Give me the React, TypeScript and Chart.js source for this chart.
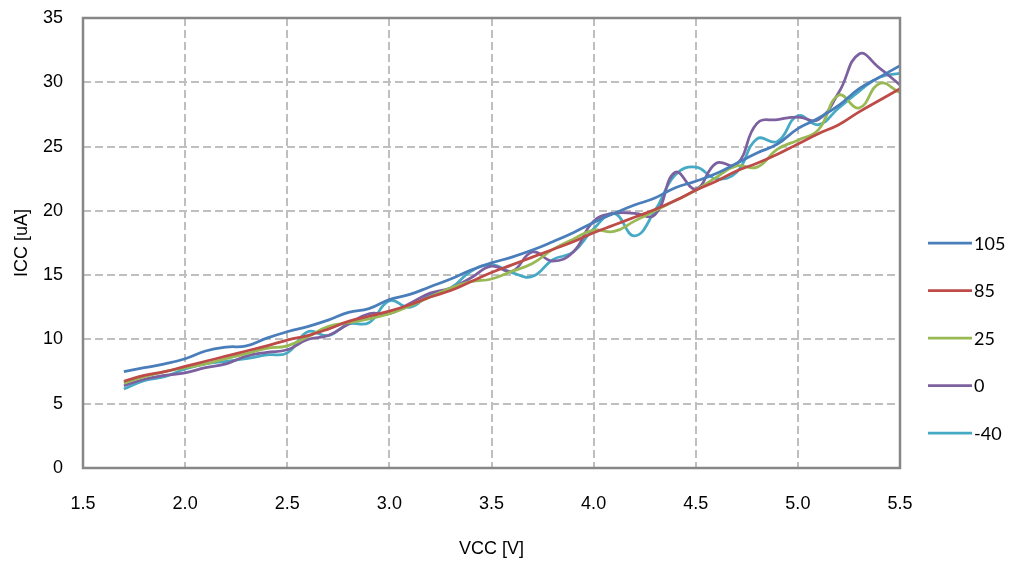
import React, { useEffect, useRef } from "react";
import { Chart, registerables } from "chart.js";

Chart.register(...registerables);

const vcc = [
  1.7, 1.8, 1.9, 2.0, 2.1, 2.2, 2.3, 2.4, 2.5, 2.6, 2.7, 2.8, 2.9, 3.0,
  3.1, 3.2, 3.3, 3.4, 3.5, 3.6, 3.7, 3.8, 3.9, 4.0, 4.1, 4.2, 4.3, 4.4,
  4.5, 4.6, 4.7, 4.8, 4.9, 5.0, 5.1, 5.2, 5.3, 5.4, 5.5,
];

const icc105 = [
  7.5, 7.8, 8.1, 8.5, 9.1, 9.4, 9.5, 10.1, 10.6, 11.0, 11.5, 12.1, 12.4, 13.1,
  13.5, 14.1, 14.7, 15.4, 15.95, 16.4, 16.95, 17.6, 18.3, 19.1, 19.8, 20.45, 21.0, 21.8,
  22.3, 22.9, 23.7, 24.5, 25.2, 26.4, 27.2, 28.2, 29.5, 30.4, 31.3,
];

const icc85 = [
  6.75, 7.2, 7.5, 7.9, 8.3, 8.7, 9.1, 9.5, 9.95, 10.3, 10.8, 11.4, 11.8, 12.2,
  12.7, 13.3, 13.8, 14.5, 15.2, 15.8, 16.4, 17.0, 17.6, 18.3, 18.9, 19.5, 20.1, 20.8,
  21.6, 22.3, 23.1, 23.7, 24.4, 25.2, 26.0, 26.7, 27.7, 28.6, 29.5,
];

const icc25 = [
  6.6, 7.1, 7.5, 7.8, 8.1, 8.5, 8.9, 9.3, 9.5, 10.2, 11.0, 11.3, 11.6, 12.0,
  12.6, 13.3, 14.0, 14.5, 14.7, 15.3, 15.9, 17.0, 17.8, 18.5, 18.4, 19.2, 20.0, 20.8,
  21.6, 22.6, 23.5, 23.4, 24.8, 25.5, 26.3, 29.0, 28.0, 29.9, 29.2,
];

const icc0 = [
  6.4, 6.9, 7.2, 7.4, 7.8, 8.1, 8.7, 9.0, 9.2, 10.0, 10.3, 11.2, 12.0, 12.0,
  12.8, 13.6, 14.0, 14.8, 15.7, 15.3, 16.8, 16.1, 16.8, 19.2, 19.8, 19.8, 19.7, 23.0,
  21.7, 23.7, 23.6, 26.8, 27.1, 27.3, 27.1, 29.2, 32.2, 31.1, 29.8,
];

const iccM40 = [
  6.15, 6.8, 7.1, 7.7, 8.1, 8.3, 8.5, 8.8, 8.95, 10.6, 10.3, 11.2, 11.3, 13.0,
  12.5, 13.5, 14.0, 15.3, 15.8, 15.2, 14.9, 16.2, 16.8, 18.6, 19.8, 18.05, 20.0, 22.8,
  23.4, 22.5, 23.0, 25.6, 25.4, 27.4, 26.7, 28.0, 29.3, 30.4, 30.7,
];

const seriesNames = ["105", "85", "25", "0", "-40"];
const seriesValues = [icc105, icc85, icc25, icc0, iccM40];
const seriesColors = ["#4A7EBB", "#BE4B48", "#98B954", "#7D60A0", "#46AAC5"];

const xTitle = "VCC [V]";
const yTitle = "ICC [uA]";

const AXIS_FONT = '"Liberation Sans", Arial, sans-serif';
const LEGEND_FONT = 'Lato, "Liberation Sans", sans-serif';

const framePlugin = {
  id: "frameAndLegend",
  afterDraw(chart: any) {
    const { ctx, chartArea: a } = chart;
    ctx.save();
    ctx.strokeStyle = "#878787";
    ctx.lineWidth = 2.5;
    ctx.setLineDash([]);
    ctx.strokeRect(a.left, a.top, a.right - a.left, a.bottom - a.top);

    ctx.font = "18px " + LEGEND_FONT;
    ctx.textBaseline = "middle";
    ctx.textAlign = "left";
    seriesNames.forEach((name, i) => {
      const y = a.top + 225 + i * 47.5;
      ctx.strokeStyle = seriesColors[i];
      ctx.lineWidth = 2.75;
      ctx.beginPath();
      ctx.moveTo(a.right + 28, y);
      ctx.lineTo(a.right + 72, y);
      ctx.stroke();
      ctx.fillStyle = "#000000";
      ctx.fillText(name, a.right + 74, y + 1);
    });
    ctx.restore();
  },
};

export default function App() {
  const canvasRef = useRef<HTMLCanvasElement | null>(null);

  useEffect(() => {
    document.body.style.margin = "0";
    const canvas = canvasRef.current;
    if (!canvas) return;
    const chart = new Chart(canvas, {
      type: "line",
      data: {
        datasets: seriesNames.map((name, i) => ({
          label: name,
          data: vcc.map((v, j) => ({ x: v, y: seriesValues[i][j] })),
          borderColor: seriesColors[i],
          backgroundColor: seriesColors[i],
          borderWidth: 2.75,
          pointRadius: 0,
          tension: 0.45,
          fill: false,
        })),
      },
      options: {
        animation: false,
        responsive: false,
        maintainAspectRatio: false,
        layout: { padding: { top: 18, right: 113, left: 0, bottom: 0 } },
        plugins: {
          legend: { display: false },
          tooltip: { enabled: false },
        },
        scales: {
          x: {
            type: "linear",
            min: 1.5,
            max: 5.5,
            afterFit: (scale: any) => {
              scale.height = 97;
              scale.paddingLeft = 0;
              scale.paddingRight = 0;
            },
            ticks: {
              stepSize: 0.5,
              padding: 25,
              color: "#000000",
              font: { family: AXIS_FONT, size: 18 },
              callback: (v: any) => Number(v).toFixed(1),
              maxRotation: 0,
            },
            grid: {
              color: "#BFBFBF",
              lineWidth: 2,
              drawTicks: false,
            },
            border: { display: false, dash: [8, 4] },
            title: {
              display: true,
              text: xTitle,
              color: "#000000",
              font: { family: AXIS_FONT, size: 18 },
              padding: { top: 0, bottom: 5 },
            },
          },
          y: {
            min: 0,
            max: 35,
            afterFit: (scale: any) => {
              scale.width = 83;
              scale.paddingTop = 0;
              scale.paddingBottom = 0;
            },
            ticks: {
              stepSize: 5,
              padding: 20,
              color: "#000000",
              font: { family: AXIS_FONT, size: 18 },
            },
            grid: {
              color: "#BFBFBF",
              lineWidth: 2,
              drawTicks: false,
            },
            border: { display: false, dash: [8, 4] },
            title: {
              display: true,
              text: yTitle,
              color: "#000000",
              font: { family: AXIS_FONT, size: 18 },
              padding: { top: 11, bottom: 0 },
            },
          },
        },
      },
      plugins: [framePlugin],
    } as any);
    return () => chart.destroy();
  }, []);

  return (
    <div style={{ position: "fixed", left: 0, top: 0, width: 1013, height: 565 }}>
      <canvas ref={canvasRef} width={1013} height={565} style={{ width: 1013, height: 565 }} />
    </div>
  );
}
